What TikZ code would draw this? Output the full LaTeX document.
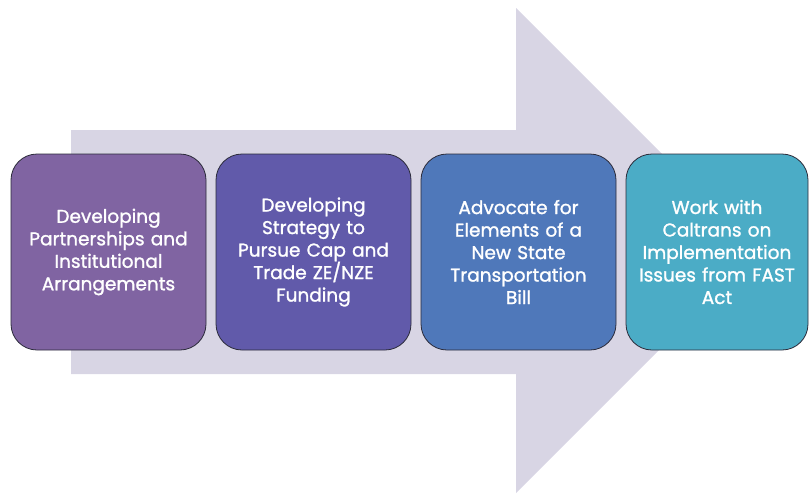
\documentclass[tikz,border=0pt]{standalone}
\usepackage{fontspec}
\setmainfont{Poppins}[FakeBold=1.3]
\definecolor{arrowbg}{HTML}{D8D5E4}
\definecolor{cA}{HTML}{8064A2}
\definecolor{cB}{HTML}{615AAA}
\definecolor{cC}{HTML}{4F78BA}
\definecolor{cD}{HTML}{4BACC6}
\definecolor{edge}{HTML}{2B2B3A}
\begin{document}
\begin{tikzpicture}[x=1pt,y=-1pt,
  stepbox/.style={draw=edge, line width=0.8pt, rounded corners=26pt,
    minimum height=196pt, inner sep=0pt, align=center, text=white,
    font=\fontsize{18.5}{22.5}\selectfont}]
\useasboundingbox (0,0) rectangle (810,493);
\fill[arrowbg] (71,130) -- (516,130) -- (516,8) -- (758.5,250.5) -- (516,493) -- (516,374) -- (71,374) -- cycle;
\node[stepbox, fill=cA, minimum width=195pt, text width=185pt] (b1) at (108.5,252) {Developing\\Partnerships and\\Institutional\\Arrangements};
\node[stepbox, fill=cB, minimum width=195pt, text width=185pt] (b2) at (313.5,252) {Developing\\Strategy to\\Pursue Cap and\\Trade ZE/NZE\\Funding};
\node[stepbox, fill=cC, minimum width=195pt, text width=185pt] (b3) at (518.5,252) {Advocate for\\Elements of a\\New State\\Transportation\\Bill};
\node[stepbox, fill=cD, minimum width=182pt, text width=180pt] (b4) at (717,252) {Work with\\Caltrans on\\Implementation\\Issues from FAST\\Act};
\end{tikzpicture}
\end{document}
